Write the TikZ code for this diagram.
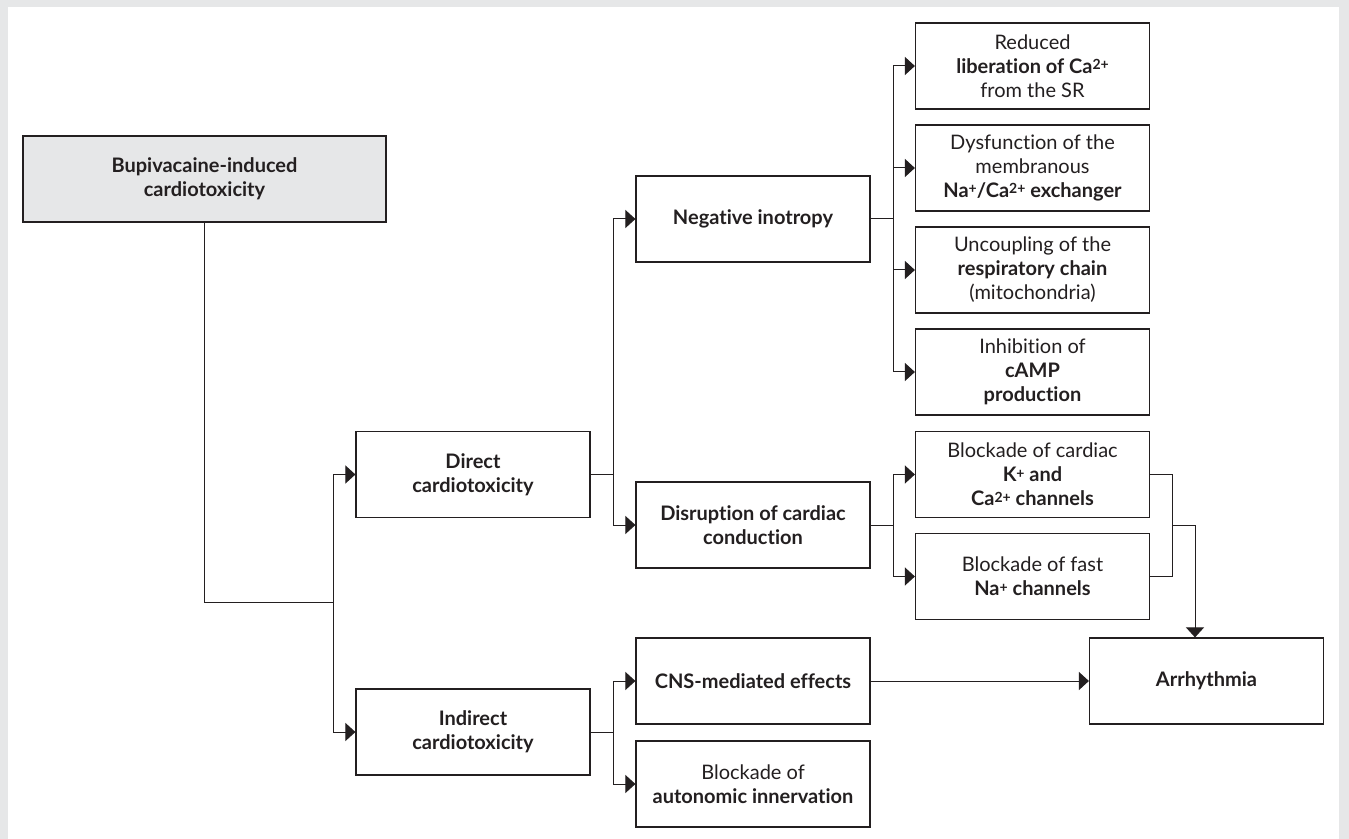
\documentclass[tikz,border=0pt]{standalone}
\usepackage{fontspec}
\setmainfont{Lato}[Ligatures={NoCommon}]
\usepackage{tikz}
\usetikzlibrary{arrows.meta,positioning}
\definecolor{ink}{HTML}{231F20}
\definecolor{panel}{HTML}{E6E7E8}
\newcommand{\ionsup}[1]{\raisebox{0.35ex}{\scriptsize #1}}
\tikzstyle{block} = [draw=ink, line width=0.6pt, rectangle, minimum height=43pt, minimum width=117pt, align=center, inner sep=2pt, text=ink, font=\fontsize{10}{12}\selectfont]
\tikzstyle{topblock} = [block, fill=panel, minimum width=181.5pt]
\tikzstyle{junction} = [coordinate]
\tikzstyle{link} = [draw=ink, line width=0.5pt]

\begin{document}
\begin{tikzpicture}[x=0.5pt, y=-0.5pt, auto, node distance=51pt, >={Triangle[length=5pt,width=9pt]}]

% page frame
\fill [panel] (0,0) rectangle (1349,839);
\fill [white] (8,7) rectangle (1339,839);

\node [topblock] (bupi) at (204.5,179) {\textbf{Bupivacaine-induced}\\\textbf{cardiotoxicity}};

\node [block] (direct) at (473,474.5) {\textbf{Direct}\\\textbf{cardiotoxicity}};
\node [block, below of=direct, node distance=128.75pt] (indirect) {\textbf{Indirect}\\\textbf{cardiotoxicity}};

\node [block] (neginot) at (753,219) {\textbf{Negative inotropy}};
\node [block, below of=neginot, node distance=153pt] (disrupt) {\textbf{Disruption of cardiac}\\\textbf{conduction}};
\node [block] (cns) at (753,681) {\textbf{CNS-mediated effects}};
\node [block, below of=cns, node distance=51.5pt] (autonom) {Blockade of\\\textbf{autonomic innervation}};

\node [block] (calib) at (1032.5,66) {Reduced\\\textbf{liberation of Ca\ionsup{2+}}\\from the SR};
\node [block, below of=calib] (exchanger) {Dysfunction of the\\membranous\\\textbf{Na\ionsup{+}/Ca\ionsup{2+} exchanger}};
\node [block, below of=exchanger] (respchain) {Uncoupling of the\\\textbf{respiratory chain}\\(mitochondria)};
\node [block, below of=respchain] (camp) {Inhibition of\\\textbf{cAMP}\\\textbf{production}};
\node [block, below of=camp, node distance=51.25pt] (kchan) {Blockade of cardiac\\\textbf{K\ionsup{+} and}\\\textbf{Ca\ionsup{2+} channels}};
\node [block, below of=kchan] (nachan) {Blockade of fast\\\textbf{Na\ionsup{+} channels}};

\node [block, right of=cns, node distance=226.75pt] (arrhythmia) {\textbf{Arrhythmia}};

% branch points
\node [junction] (split1) at (333,602) {};
\node [junction, left of=neginot, node distance=70pt] (split2) {};
\node [junction, right of=neginot, node distance=70pt] (split3) {};
\node [junction, right of=disrupt, node distance=70pt] (split4) {};
\node [junction, left of=cns, node distance=70pt] (split5) {};
\node [junction, right of=kchan, node distance=70pt] (merge1) {};
\node [junction] (merge2) at (1195,525) {};

\draw [link] (bupi) |- (split1);
\draw [link, ->] (split1) |- (direct);
\draw [link, ->] (split1) |- (indirect);

\draw [link] (direct) -- (direct -| split2);
\draw [link, ->] (direct -| split2) |- (neginot);
\draw [link, ->] (direct -| split2) |- (disrupt);

\draw [link] (neginot) -- (split3);
\foreach \t in {calib,exchanger,respchain,camp}
  \draw [link, ->] (split3) |- (\t);

\draw [link] (disrupt) -- (split4);
\draw [link, ->] (split4) |- (kchan);
\draw [link, ->] (split4) |- (nachan);

\draw [link] (indirect) -- (indirect -| split5);
\draw [link, ->] (indirect -| split5) |- (cns);
\draw [link, ->] (indirect -| split5) |- (autonom);

\draw [link] (kchan) -| (merge1) |- (nachan);
\draw [link] (merge1 |- merge2) -- (merge2);
\draw [link, ->] (merge2) -- (merge2 |- arrhythmia.north);
\draw [link, ->] (cns) -- (arrhythmia);
\end{tikzpicture}
\end{document}
